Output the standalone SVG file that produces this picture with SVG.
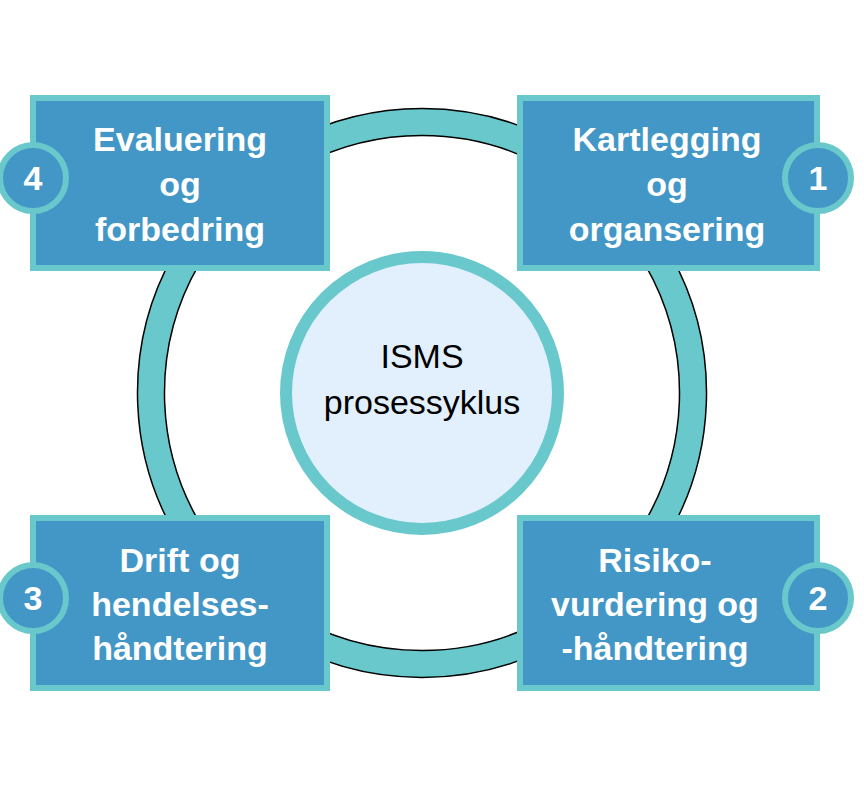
<svg xmlns="http://www.w3.org/2000/svg" width="864" height="811" viewBox="0 0 864 811">
<style>
.box{fill:#4397c7;stroke:#68c8cb;stroke-width:6}
.badge{fill:#4397c7;stroke:#68c8cb;stroke-width:6}
.t{font-family:"Liberation Sans",Arial,sans-serif;font-weight:bold;font-size:34px;fill:#fff;text-anchor:middle}
.n{font-family:"Liberation Sans",Arial,sans-serif;font-weight:bold;font-size:34px;fill:#fff;text-anchor:middle}
.c{font-family:"Liberation Sans",Arial,sans-serif;font-size:34px;fill:#000;text-anchor:middle}
</style>
<rect width="864" height="811" fill="#fff"/>
<g id="connectors">
<path d="M422,108.5 a284.5,284.5 0 1,0 0.01,0 Z M422,135.5 a257.5,257.5 0 1,1 -0.01,0 Z" fill="#68c8cb" fill-rule="evenodd" stroke="#000" stroke-width="1.5"/>
</g>
<g id="center">
<circle cx="422" cy="393" r="136" fill="#e1f0fc" stroke="#68c8cb" stroke-width="12"/>
<text class="c" x="422" y="368">ISMS</text>
<text class="c" x="422" y="414">prosessyklus</text>
</g>
<g id="node4">
<rect class="box" x="33" y="98" width="294" height="170"/>
<text class="t" x="180" y="151">Evaluering</text>
<text class="t" x="180" y="196">og</text>
<text class="t" x="180" y="241">forbedring</text>
<circle class="badge" cx="33" cy="178" r="33"/>
<text class="n" x="33" y="190">4</text>
</g>
<g id="node1">
<rect class="box" x="520" y="98" width="297" height="170"/>
<text class="t" x="667" y="151">Kartlegging</text>
<text class="t" x="667" y="196">og</text>
<text class="t" x="667" y="241">organsering</text>
<circle class="badge" cx="818" cy="178" r="33"/>
<text class="n" x="818" y="190">1</text>
</g>
<g id="node3">
<rect class="box" x="33" y="518" width="294" height="170"/>
<text class="t" x="180" y="572">Drift og</text>
<text class="t" x="180" y="616">hendelses-</text>
<text class="t" x="180" y="660">håndtering</text>
<circle class="badge" cx="33" cy="598" r="33"/>
<text class="n" x="33" y="610">3</text>
</g>
<g id="node2">
<rect class="box" x="520" y="518" width="297" height="170"/>
<text class="t" x="655" y="572">Risiko-</text>
<text class="t" x="655" y="616">vurdering og</text>
<text class="t" x="655" y="660">-håndtering</text>
<circle class="badge" cx="818" cy="598" r="33"/>
<text class="n" x="818" y="610">2</text>
</g>
</svg>
